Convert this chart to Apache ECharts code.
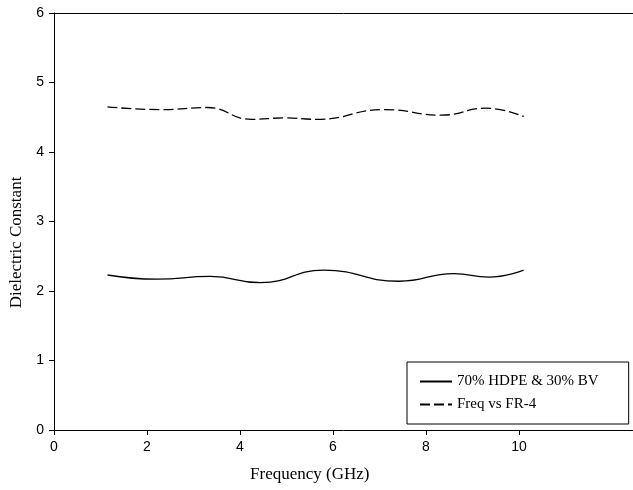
<!DOCTYPE html>
<html>
<head>
<meta charset="utf-8">
<script src="https://cdn.jsdelivr.net/npm/echarts@6/dist/echarts.min.js"></script>
<style>
  html, body { margin: 0; padding: 0; background: #fff; }
  #chart { width: 633px; height: 490px; }
</style>
</head>
<body>
<div id="chart"></div>
<script>
// values
const hdpeFreq = [1.15, 2.21, 3.36, 4.44, 5.8, 7.42, 8.6, 9.35, 10.1];
const hdpeDk = [2.23, 2.17, 2.21, 2.12, 2.3, 2.14, 2.25, 2.2, 2.3];
const fr4Freq = [1.15, 2.33, 3.29, 4.25, 4.95, 5.65, 7.12, 8.33, 9.29, 10.1];
const fr4Dk = [4.65, 4.61, 4.64, 4.47, 4.49, 4.47, 4.61, 4.53, 4.63, 4.51];
const xTicks = [0, 2, 4, 6, 8, 10];
const seriesNames = ["70% HDPE & 30% BV", "Freq vs FR-4"];

const pair = (xs, ys) => xs.map((x, i) => [x, ys[i]]);
const serif = "Liberation Serif";
const sans = "Liberation Sans";

let chart = echarts.init(document.getElementById("chart"));
chart.setOption({
  animation: false,
  backgroundColor: "#fff",
  grid: [
    { left: 54, top: 13, bottom: 60, right: 67.5 },
    { left: 54, top: 13, bottom: 60, right: 0 },
    { left: 54, top: 55, bottom: 60, right: 0 }
  ],
  legend: {
    left: 407,
    top: 362,
    orient: "vertical",
    padding: [12, 30, 12, 12],
    itemGap: 8,
    itemWidth: 32,
    itemHeight: 14,
    borderColor: "#000",
    borderWidth: 1,
    borderRadius: 0,
    backgroundColor: "#fff",
    itemStyle: { opacity: 0 },
    textStyle: { fontFamily: serif, fontSize: 15, color: "#000" },
    data: seriesNames
  },
  xAxis: [
    {
      gridIndex: 0,
      type: "value",
      min: 0,
      max: 11,
      interval: 2,
      name: "Frequency (GHz)",
      nameLocation: "middle",
      nameGap: 36,
      nameTextStyle: { fontFamily: serif, fontSize: 17, color: "#000" },
      axisLine: { show: false },
      axisTick: { show: true, inside: false, length: 5, customValues: xTicks, lineStyle: { color: "#000" } },
      axisLabel: { customValues: xTicks, fontFamily: sans, fontSize: 14, color: "#000", margin: 10 },
      splitLine: { show: false }
    },
    {
      gridIndex: 1,
      type: "value",
      min: 0,
      max: 1,
      axisLine: { show: true, lineStyle: { color: "#000", width: 1 } },
      axisTick: { show: false },
      axisLabel: { show: false },
      splitLine: { show: false }
    },
    {
      gridIndex: 1,
      type: "value",
      position: "top",
      min: 0,
      max: 1,
      axisLine: { show: true, lineStyle: { color: "#000", width: 1 } },
      axisTick: { show: false },
      axisLabel: { show: false },
      splitLine: { show: false }
    },
    { gridIndex: 2, type: "value", show: false }
  ],
  yAxis: [
    {
      gridIndex: 0,
      type: "value",
      min: 0,
      max: 6,
      interval: 1,
      axisLine: { show: true, lineStyle: { color: "#000", width: 1 } },
      axisTick: { show: true, inside: false, length: 5, lineStyle: { color: "#000" } },
      axisLabel: { fontFamily: sans, fontSize: 14, color: "#000", margin: 10 },
      splitLine: { show: false }
    },
    { gridIndex: 1, type: "value", show: false },
    {
      gridIndex: 2,
      type: "value",
      name: "Dielectric Constant",
      nameLocation: "middle",
      nameGap: 30,
      nameTextStyle: { fontFamily: serif, fontSize: 17, color: "#000" },
      axisLine: { show: false },
      axisTick: { show: false },
      axisLabel: { show: false },
      splitLine: { show: false }
    }
  ],
  series: [
    {
      name: seriesNames[0],
      type: "line",
      xAxisIndex: 0,
      yAxisIndex: 0,
      data: pair(hdpeFreq, hdpeDk),
      smooth: 0.5,
      symbol: "none",
      lineStyle: { color: "#000", width: 1.3, type: "solid" },
      itemStyle: { color: "#000" }
    },
    {
      name: seriesNames[1],
      type: "line",
      xAxisIndex: 0,
      yAxisIndex: 0,
      data: pair(fr4Freq, fr4Dk),
      smooth: 0.5,
      symbol: "none",
      lineStyle: { color: "#000", width: 1.3, type: [10, 4] },
      itemStyle: { color: "#000" }
    }
  ]
});
</script>
</body>
</html>
